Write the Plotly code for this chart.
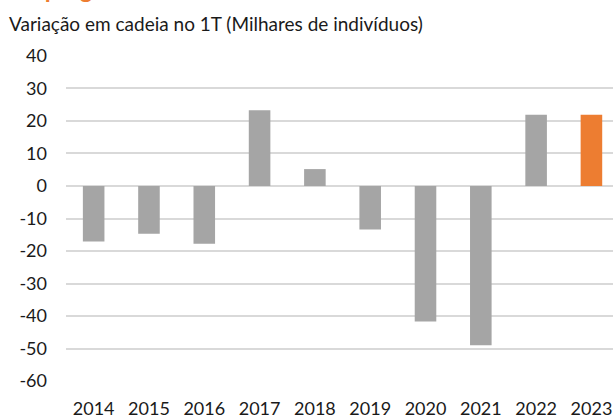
import plotly.graph_objects as go

years = ["2014", "2015", "2016", "2017", "2018", "2019", "2020", "2021", "2022", "2023"]
values = [-17.1, -14.7, -17.8, 23.3, 5.2, -13.4, -41.7, -49.0, 21.9, 21.9]
colors = ["#A5A5A5"] * 9 + ["#ED7D31"]
y_ticks = [40, 30, 20, 10, 0, -10, -20, -30, -40, -50, -60]

W, H = 613, 419
L, R, T, B = 66, 0, 55, 35
pw, ph = W - L - R, H - T - B

fig = go.Figure(go.Bar(
    x=years, y=values, marker=dict(color=colors, line=dict(width=0)),
    width=0.39, hoverinfo="skip",
))

font = "Lato, 'Open Sans', sans-serif"
fig.update_layout(
    width=W, height=H,
    margin=dict(l=L, r=R, t=T, b=B, pad=0),
    paper_bgcolor="white", plot_bgcolor="white",
    showlegend=False,
    font=dict(family=font, size=18, color="#1a1a1a"),
    title=dict(text="Variação em cadeia no 1T (Milhares de indivíduos)",
               x=9 / W, xanchor="left", xref="container",
               y=1 - 24 / H, yanchor="middle", yref="container",
               font=dict(family=font, size=19, color="#1a1a1a")),
    xaxis=dict(type="category", range=[-0.5, 9.39], showgrid=False,
               showline=False, ticks="", tickfont=dict(size=18),
               ticklabelstandoff=14),
    yaxis=dict(range=[-60.3, 40.3], tickvals=y_ticks, ticktext=[str(v) for v in y_ticks],
               showgrid=True, gridcolor="#D9D9D9", gridwidth=1.5,
               zeroline=True, zerolinecolor="#D9D9D9", zerolinewidth=1.5,
               showline=False, ticks="", tickfont=dict(size=18),
               ticklabelstandoff=18),
    bargap=0.61,
)

fig.add_annotation(text="<b>Emprego</b>", xref="paper", yref="paper",
                   x=(9 - L) / pw, xanchor="left",
                   y=(H - B - 5) / ph, yanchor="bottom",
                   showarrow=False, font=dict(family=font, size=24, color="#ED7D31"))

fig.write_html("out.html", config={"displayModeBar": False},
               post_script="document.body.style.margin='0';document.body.style.overflow='hidden';")
